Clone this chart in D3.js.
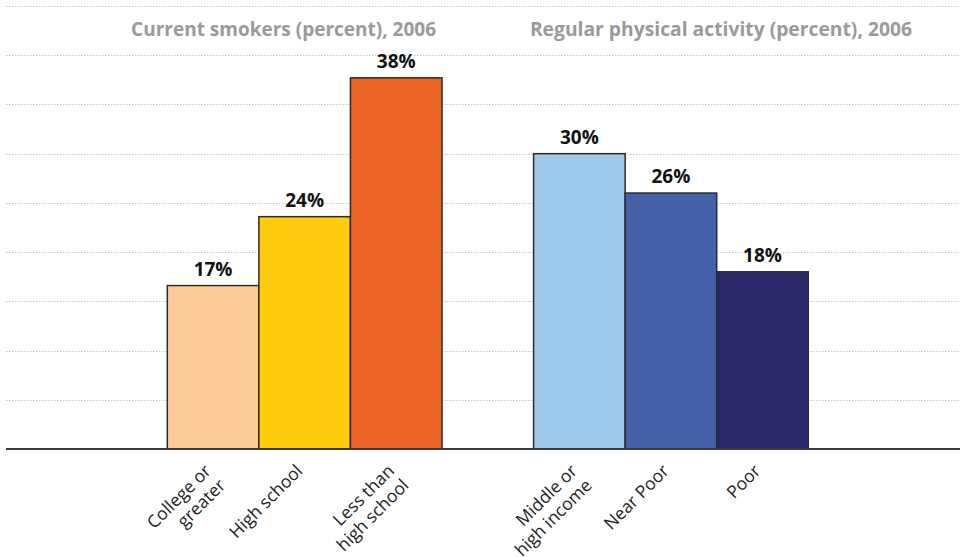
<!DOCTYPE html>
<html>
<head>
<meta charset="utf-8">
<script src="https://cdn.jsdelivr.net/npm/d3@7"></script>
<style>
  html, body { margin: 0; padding: 0; background: #fff; }
  svg { display: block; }
</style>
</head>
<body>
<svg id="chart" width="960" height="557"></svg>
<script>
// ---- data ----
const smokingCategories = ["College or\ngreater", "High school", "Less than\nhigh school"];
const smokingValues = [16.6, 23.6, 37.7];
const smokingLabels = ["17%", "24%", "38%"];
const activityCategories = ["Middle or\nhigh income", "Near Poor", "Poor"];
const activityValues = [30, 26, 18];
const activityLabels = ["30%", "26%", "18%"];
const groupTitles = ["Current smokers (percent), 2006", "Regular physical activity (percent), 2006"];
const gridTicks = [5, 10, 15, 20, 25, 30, 35, 40, 45];
const smokingColors = ["#FDCB99", "#FECC0C", "#EE6425"];
const activityColors = ["#9EC9EB", "#4462AA", "#2A2A6A"];

// ---- layout ----
const svg = d3.select("#chart");
const W = 960;
const baseY = 449;
const spacer = "__gap__";
const FONT = "'Open Sans', sans-serif";

const bars = [
  ...smokingCategories.map((c, i) => ({ cat: c, v: smokingValues[i], lab: smokingLabels[i], col: smokingColors[i] })),
  ...activityCategories.map((c, i) => ({ cat: c, v: activityValues[i], lab: activityLabels[i], col: activityColors[i] }))
];
const domain = [...smokingCategories, spacer, ...activityCategories];

const x = d3.scaleBand().domain(domain).range([167.3, 808.3]).padding(0);
const y = d3.scaleLinear().domain([0, 45]).range([baseY, 6]);

// gridlines
svg.append("g").selectAll("line").data(gridTicks).join("line")
  .attr("x1", 6).attr("x2", W)
  .attr("y1", d => Math.round(y(d)) + 0.5).attr("y2", d => Math.round(y(d)) + 0.5)
  .attr("stroke", "#c8c8c8").attr("stroke-width", 1)
  .attr("stroke-dasharray", "1.5,1.5");

// titles
const titleX = [436, 912];
const titleSize = [19, 19.3];
svg.append("g").selectAll("text").data(groupTitles).join("text")
  .attr("x", (d, i) => titleX[i]).attr("y", 36).attr("text-anchor", "end")
  .attr("font-family", FONT).attr("font-weight", 700)
  .attr("font-size", (d, i) => titleSize[i]).attr("fill", "#9a9a9a").text(d => d);

// bars
svg.append("g").selectAll("rect").data(bars).join("rect")
  .attr("x", d => x(d.cat))
  .attr("y", d => y(d.v))
  .attr("width", x.bandwidth())
  .attr("height", d => baseY - y(d.v))
  .attr("fill", d => d.col)
  .attr("stroke", "#2b2b2b").attr("stroke-width", 1.5);

// value labels
svg.append("g").selectAll("text").data(bars).join("text")
  .attr("x", d => x(d.cat) + x.bandwidth() / 2)
  .attr("y", d => y(d.v) - 10)
  .attr("text-anchor", "middle")
  .attr("font-family", FONT).attr("font-weight", 700)
  .attr("font-size", 19).attr("fill", "#111")
  .text(d => d.lab);

// baseline
svg.append("line").attr("x1", 6).attr("x2", W).attr("y1", baseY).attr("y2", baseY)
  .attr("stroke", "#3a3a3a").attr("stroke-width", 1.8);

// category labels
const lab = svg.append("g").selectAll("g").data(bars).join("g")
  .attr("transform", d => `translate(${x(d.cat) + x.bandwidth() / 2 - 1},${472}) rotate(-45)`);
lab.append("text")
  .attr("text-anchor", "end")
  .attr("font-family", FONT)
  .attr("font-size", 17.5).attr("fill", "#222")
  .each(function(d) {
    const lines = d.cat.split("\n");
    d3.select(this).selectAll("tspan").data(lines).join("tspan")
      .attr("x", 0).attr("dy", (l, i) => i === 0 ? 0 : 20.5)
      .text(l => l);
  });
</script>
</body>
</html>
